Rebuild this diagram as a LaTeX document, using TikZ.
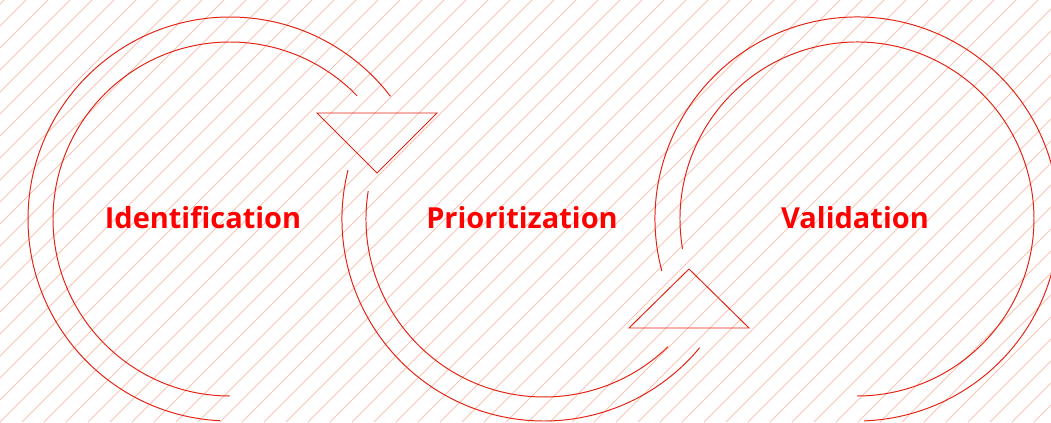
\documentclass[tikz,border=0pt]{standalone}
\usepackage{fontspec}
\setmainfont{Open Sans}
\usepackage{tikz}
\usetikzlibrary{positioning}
\definecolor{hatchpink}{HTML}{F7C4B6}
\definecolor{ringred}{HTML}{E42313}
\definecolor{stagered}{HTML}{FF0000}

\begin{document}
\begin{tikzpicture}[x=0.25mm, y=0.25mm,
    ring/.style = {draw=ringred, line width=0.7pt},
    head/.style = {draw=ringred, line width=0.7pt, line join=miter},
    stagename/.style = {text=stagered, inner sep=0pt, anchor=base,
      font=\bfseries\fontsize{20.6}{24}\selectfont}]
    \useasboundingbox (0,0) rectangle (1051,422);
    % hatching
    \begin{scope}
      \clip (0,0) rectangle (1051,422);
      \foreach \i in {-440,-418,...,1060} {
        \draw[hatchpink, line width=0.6pt] (\i,0) -- ++(422,422);
      }
    \end{scope}
    % rings: centre x / radius / start / end
    \foreach \cx/\r/\a/\b in {230/202/267.2/37.4, 230/177/270/44.1,
                              544/202/166/320.4, 544/178/171/314.1,
                              857/202/194.9/-88, 857/177/189.8/-90} {
      \draw[ring] (\cx,203) ++(\a:\r) arc[start angle=\a, end angle=\b, radius=\r];
    }
    % arrow heads
    \draw[head] (317,309) -- (437,309) -- (377,249) -- cycle;
    \draw[head] (629,94) -- (749,94) -- (689,153) -- cycle;
    % stages
    \node[stagename] (ident) at (203,193) {Identification};
    \node[stagename] (prior) at (522,193) {Prioritization};
    \node[stagename] (valid) at (855,193) {Validation};
  \end{tikzpicture}
\end{document}
